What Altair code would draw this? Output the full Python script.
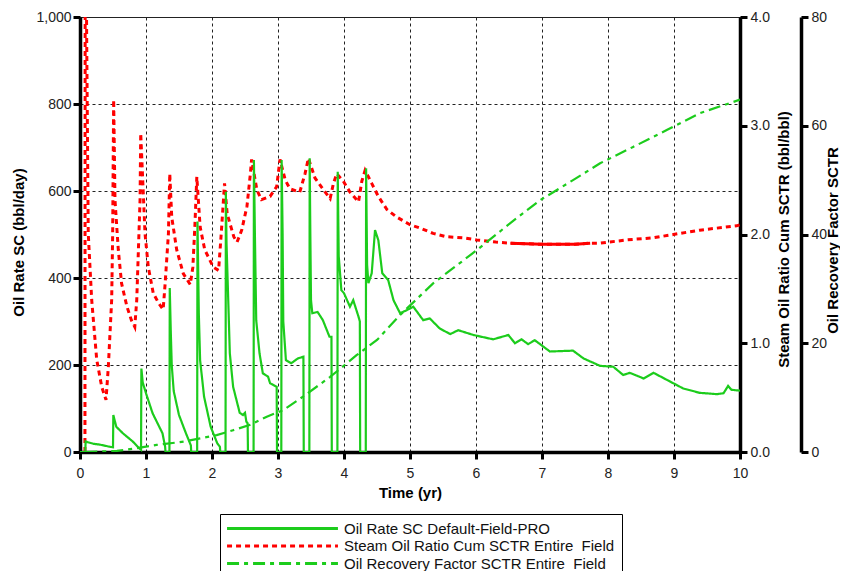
import altair as alt
import pandas as pd

FONT = "Liberation Sans"
GREEN = "#1ccc1c"
RED = "#ff0000"

LAB_OIL = "Oil Rate SC Default-Field-PRO"
LAB_SOR = "Steam Oil Ratio Cum SCTR Entire\u00a0 Field"
LAB_RF = "Oil Recovery Factor SCTR Entire\u00a0 Field"

time_ticks = [0, 1, 2, 3, 4, 5, 6, 7, 8, 9, 10]
oil_ticks = [0, 200, 400, 600, 800, 1000]
sor_ticks = [0, 1, 2, 3, 4]
rf_ticks = [0, 20, 40, 60, 80]

# Oil rate (bbl/day)
oil_t = [0.0, 0.08, 0.085, 0.2, 0.3, 0.45, 0.5, 0.505, 0.55, 0.65, 0.8, 0.9, 0.925, 0.93,
         0.95, 1.0, 1.1, 1.25, 1.29, 1.295, 1.355, 1.36, 1.375, 1.39, 1.42, 1.5, 1.6, 1.68,
         1.685, 1.775, 1.78, 1.80, 1.82, 1.88, 1.98, 2.08, 2.12, 2.125, 2.205, 2.21, 2.22,
         2.24, 2.27, 2.32, 2.42, 2.47, 2.50, 2.52, 2.54, 2.545, 2.63, 2.635, 2.65, 2.67,
         2.72, 2.77, 2.85, 2.88, 2.98, 2.985, 3.05, 3.055, 3.07, 3.08, 3.12, 3.2, 3.3, 3.385,
         3.39, 3.475, 3.48, 3.49, 3.50, 3.52, 3.6, 3.68, 3.78, 3.81, 3.815, 3.9, 3.905,
         3.92, 3.96, 4.0, 4.09, 4.14, 4.22, 4.24, 4.245, 4.33, 4.335, 4.35, 4.37, 4.42,
         4.47, 4.52, 4.58, 4.67, 4.75, 4.85, 4.95, 5.05, 5.2, 5.3, 5.45, 5.61, 5.73, 5.96,
         6.26, 6.49, 6.59, 6.69, 6.79, 6.89, 7.12, 7.47, 7.63, 7.88, 8.08, 8.23, 8.33,
         8.54, 8.69, 8.89, 9.14, 9.39, 9.65, 9.75, 9.82, 9.87, 10.0]
oil_q = [0, 0, 24, 19, 17, 12, 11, 85, 58, 43, 24, 8, 5, 192,
         160, 135, 89, 43, 12, 0, 0, 377, 280, 200, 140, 85, 45, 15,
         0, 0, 530, 320, 211, 127, 58, 20, 12, 0, 0, 598, 480,
         380, 227, 150, 90, 85, 90, 70, 66, 0, 0, 671, 500, 303,
         227, 181, 173, 158, 150, 0, 0, 671, 500, 300, 211, 204, 215, 219,
         0, 0, 675, 500, 349, 319, 322, 303, 265, 265, 0, 0, 644,
         450, 372, 365, 334, 349, 311, 300, 0, 0, 652, 430, 388, 411,
         510, 487, 411, 395, 349, 319, 326, 334, 303, 307, 284, 271, 280, 269,
         259, 269, 250, 259, 248, 257, 231, 233, 215, 198, 196, 177, 182,
         169, 182, 166, 146, 136, 133, 135, 152, 143, 141]

# Steam oil ratio cum (bbl/bbl)
sor_t = [0.075, 0.08, 0.10, 0.125, 0.177, 0.253, 0.329, 0.394, 0.429, 0.48, 0.495, 0.51,
         0.53, 0.58, 0.63, 0.71, 0.78, 0.83, 0.86, 0.885, 0.91, 0.92, 0.985, 1.035, 1.11,
         1.19, 1.26, 1.29, 1.34, 1.36, 1.39, 1.465, 1.565, 1.67, 1.71, 1.74, 1.77, 1.82,
         1.89, 2.02, 2.10, 2.14, 2.19, 2.23, 2.33, 2.38, 2.45, 2.53, 2.58, 2.60, 2.68,
         2.75, 2.88, 2.98, 3.03, 3.11, 3.18, 3.33, 3.41, 3.46, 3.56, 3.69, 3.79, 3.84,
         3.89, 3.99, 4.09, 4.22, 4.27, 4.32, 4.42, 4.52, 4.65, 4.8, 5.0, 5.15, 5.35, 5.55,
         5.8, 6.01, 6.3, 6.52, 7.0, 7.5, 7.73, 7.88, 8.28, 8.69, 8.99, 9.39, 9.95, 10.0]
sor_v = [0.0, 6.0, 3.9, 2.01, 1.40, 0.85, 0.60, 0.48, 0.78, 1.40, 2.01, 3.24,
         2.32, 1.86, 1.55, 1.34, 1.21, 1.15, 1.40, 1.86, 2.32, 2.93, 2.01, 1.70, 1.46,
         1.37, 1.31, 1.55, 2.01, 2.56, 2.16, 1.86, 1.64, 1.54, 1.70, 2.07, 2.53, 2.07,
         1.86, 1.70, 1.67, 2.01, 2.47, 2.19, 1.98, 1.93, 2.04, 2.26, 2.55, 2.69, 2.41,
         2.32, 2.35, 2.44, 2.69, 2.50, 2.42, 2.39, 2.56, 2.70, 2.52, 2.41, 2.33, 2.47,
         2.56, 2.49, 2.39, 2.30, 2.49, 2.59, 2.47, 2.35, 2.23, 2.16, 2.09, 2.06, 2.01, 1.98,
         1.97, 1.95, 1.93, 1.92, 1.91, 1.91, 1.92, 1.92, 1.95, 1.97, 2.00, 2.04, 2.08, 2.09]
sor_solid_range = [6.52, 7.73]

# Oil recovery factor (%)
rf_t = [0.08, 0.56, 0.86, 1.16, 1.57, 1.82, 2.07, 2.32, 2.58, 2.83, 3.08, 3.38, 3.79,
        4.19, 4.5, 4.85, 5.35, 6.01, 6.52, 6.97, 7.47, 7.88, 8.38, 8.89, 9.39, 10.0]
rf_v = [0.0, 0.2, 0.7, 1.3, 1.9, 2.5, 3.1, 4.0, 5.0, 6.5, 7.7, 10.2, 13.8,
        17.8, 20.6, 25.2, 31.0, 37.1, 42.1, 46.3, 50.0, 53.1, 56.1, 59.2, 62.3, 64.8]

oil_df = pd.DataFrame({"t": oil_t, "v": oil_q, "i": range(len(oil_t))})
sor_df = pd.DataFrame({"t": sor_t, "v": sor_v, "i": range(len(sor_t))})
rf_df = pd.DataFrame({"t": rf_t, "v": rf_v, "i": range(len(rf_t))})

labels = [LAB_OIL, LAB_SOR, LAB_RF]
color_scale = alt.Scale(domain=labels, range=[GREEN, RED, GREEN])
dash_scale = alt.Scale(domain=labels, range=[[1, 0], [5, 4], [12, 5, 4, 5]])

legend = alt.Legend(
    title=None, orient="none", legendX=140, legendY=497,
    symbolType="M-10,0L10,0", symbolSize=123, symbolStrokeWidth=3,
    symbolOffset=48, labelOffset=54, labelFont=FONT, labelFontSize=15,
    labelColor="#111", labelLimit=400, rowPadding=1.5, padding=7,
    strokeColor="black", fillColor="white",
)

common_axis = dict(
    domainColor="black", domainWidth=3.5, tickColor="black", tickWidth=3, tickSize=7,
    labelFont=FONT, labelFontSize=14, labelColor="#222",
    titleFont=FONT, titleFontSize=15, titleFontWeight="bold", titleColor="black",
)

x_enc = alt.X(
    "t:Q", scale=alt.Scale(domain=[0, 10], nice=False, zero=False),
    axis=alt.Axis(values=time_ticks, format="d", title="Time (yr)", grid=True,
                  gridDash=[3, 3], gridColor="#222", gridWidth=1, labelPadding=7,
                  titlePadding=5, labelFlush=False, **common_axis),
)

oil = alt.Chart(oil_df).mark_line(strokeWidth=2.2, clip=True).encode(
    x=x_enc,
    y=alt.Y("v:Q", scale=alt.Scale(domain=[0, 1000], nice=False),
            axis=alt.Axis(orient="left", values=oil_ticks, format=",d", title="Oil Rate SC (bbl/day)",
                          grid=True, gridDash=[3, 3], gridColor="#222", gridWidth=1,
                          labelPadding=2, titleX=-62, titleY=225, titleBaseline="middle",
                          **common_axis)),
    color=alt.Color("s:N", scale=color_scale, legend=legend),
    strokeDash=alt.StrokeDash("s:N", scale=dash_scale, legend=legend),
    order=alt.Order("i:Q"),
).transform_calculate(s=f"'{LAB_OIL}'")

sor = alt.Chart(sor_df).mark_line(strokeWidth=3, clip=True).encode(
    x=x_enc,
    y=alt.Y("v:Q", scale=alt.Scale(domain=[0, 4], nice=False),
            axis=alt.Axis(orient="right", values=sor_ticks, format=".1f",
                          title="Steam Oil Ratio Cum SCTR (bbl/bbl)", grid=False,
                          labelPadding=3, titleAngle=270, titleX=43, titleY=222,
                          titleBaseline="middle", **common_axis)),
    color=alt.Color("s:N", scale=color_scale, legend=legend),
    strokeDash=alt.StrokeDash("s:N", scale=dash_scale, legend=legend),
    order=alt.Order("i:Q"),
).transform_calculate(s=f"'{LAB_SOR}'")

sor_solid = alt.Chart(sor_df).mark_line(strokeWidth=3, clip=True, color=RED).encode(
    x=x_enc,
    y=alt.Y("v:Q", scale=alt.Scale(domain=[0, 4], nice=False), axis=None),
    order=alt.Order("i:Q"),
).transform_filter(
    (alt.datum.t >= sor_solid_range[0]) & (alt.datum.t <= sor_solid_range[1])
)

rf = alt.Chart(rf_df).mark_line(strokeWidth=2.2, clip=True).encode(
    x=x_enc,
    y=alt.Y("v:Q", scale=alt.Scale(domain=[0, 80], nice=False),
            axis=alt.Axis(orient="right", offset=61, values=rf_ticks, format="d",
                          title="Oil Recovery Factor SCTR", grid=False,
                          labelPadding=3, titleAngle=270, titleX=31, titleY=223,
                          titleBaseline="middle", **common_axis)),
    color=alt.Color("s:N", scale=color_scale, legend=legend),
    strokeDash=alt.StrokeDash("s:N", scale=dash_scale, legend=legend),
    order=alt.Order("i:Q"),
).transform_calculate(s=f"'{LAB_RF}'")

chart = alt.layer(sor, sor_solid, rf, oil).resolve_scale(
    y="independent"
).properties(
    width=660, height=435,
    autosize=alt.AutoSizeParams(type="none"),
    padding={"left": 72, "top": 9, "right": 100, "bottom": 119},
    background="white",
).configure_view(stroke="#222", strokeWidth=1)

chart.save("out.html", embed_options={"renderer": "svg", "actions": False})
